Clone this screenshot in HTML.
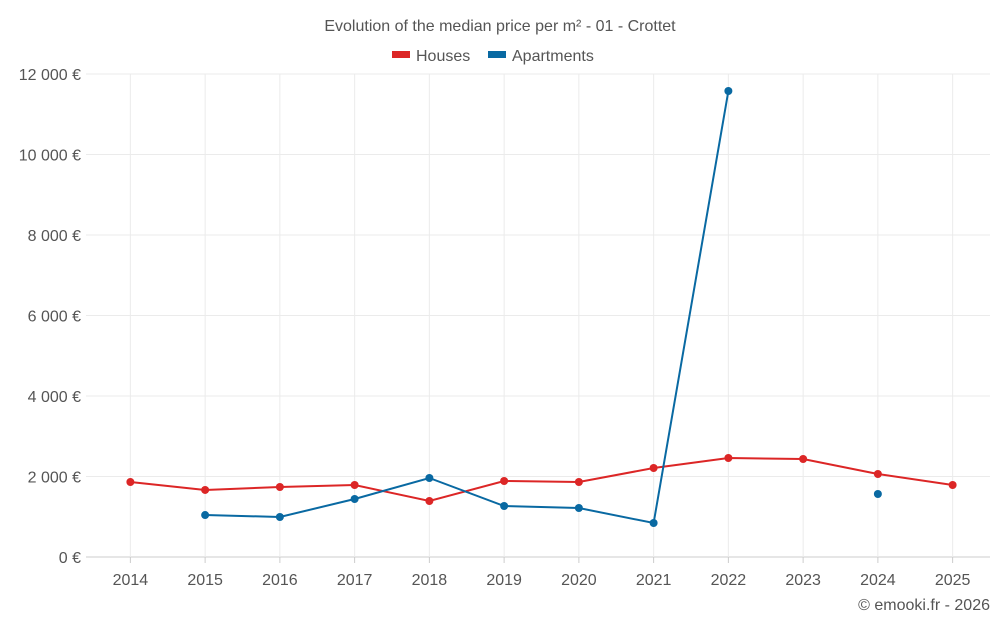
<!DOCTYPE html>
<html><head><meta charset="utf-8"><style>
body{margin:0;background:#fff;font-family:"Liberation Sans",sans-serif;}
svg text{font-family:"Liberation Sans",sans-serif;fill:#555;}
</style></head><body>
<svg id="chart" width="1000" height="625">
<text x="500" y="31" text-anchor="middle" font-size="16">Evolution of the median price per m² - 01 - Crottet</text>
<g>
<g><rect x="392" y="51" width="18" height="7" fill="#dc2626"/><text x="416" y="61" font-size="16">Houses</text></g>
<g><rect x="488" y="51" width="18" height="7" fill="#0969a2"/><text x="512" y="61" font-size="16">Apartments</text></g>
</g>
<g id="grid"></g><g id="axes"></g><g id="series"></g>
<text x="990" y="610" text-anchor="end" font-size="16">© emooki.fr - 2026</text>
</svg>
<script>
const categories=["2014","2015","2016","2017","2018","2019","2020","2021","2022","2023","2024","2025"];
const houses=[1863,1665,1739,1789,1391,1888,1863,2211,2460,2435,2062,1789];
const apartments=[null,1043,994,1441,1963,1267,1217,845,11578,null,1565,null];
const yTicks=[0,2000,4000,6000,8000,10000,12000];
const yTickLabels=["0 €","2 000 €","4 000 €","6 000 €","8 000 €","10 000 €","12 000 €"];
const NS="http://www.w3.org/2000/svg";
const L=93,R=990,T=74,B=557;
const band=(R-L)/categories.length;
function x(i){return L+band*(i+0.5);}
function y(v){return B-(v/12000)*(B-T);}
function mk(p,tag,a){const e=document.createElementNS(NS,tag);for(const k in a)e.setAttribute(k,a[k]);p.appendChild(e);return e;}
const grid=document.getElementById('grid'),axes=document.getElementById('axes'),ser=document.getElementById('series');
yTicks.forEach((v,i)=>{
 const g=mk(grid,'line',{x1:86,x2:R,y1:y(v),y2:y(v),stroke:i==0?'#ccc':'#ebebeb'});
 
 
 const t=mk(axes,'text',{x:81,y:y(v)+6,'text-anchor':'end','font-size':16});
 t.textContent=yTickLabels[i];
 
 
});
categories.forEach((c,i)=>{
 const g=mk(grid,'line',{x1:x(i),x2:x(i),y1:T,y2:B,stroke:'#ebebeb'});
 
 
 const tk=mk(axes,'line',{x1:x(i),x2:x(i),y1:B,y2:B+6,stroke:'#ccc'});
 
 
 const t=mk(axes,'text',{x:x(i),y:585,'text-anchor':'middle','font-size':16});
 t.textContent=c;
 
 
});
function draw(vals,color,name){
 let seg=[];const segs=[];
 vals.forEach((v,i)=>{if(v==null){if(seg.length)segs.push(seg);seg=[];}else seg.push([x(i),y(v)]);});
 if(seg.length)segs.push(seg);
 segs.forEach(s=>{if(s.length>1){const p=mk(ser,'polyline',{points:s.map(q=>q.join(',')).join(' '),fill:'none',stroke:color,'stroke-width':2});
  
  }});
 vals.forEach((v,i)=>{if(v==null)return;const c=mk(ser,'circle',{cx:x(i),cy:y(v),r:4,fill:color});
  
  });
}
draw(houses,'#dc2626','houses');
draw(apartments,'#0969a2','apartments');
</script>
</body></html>
